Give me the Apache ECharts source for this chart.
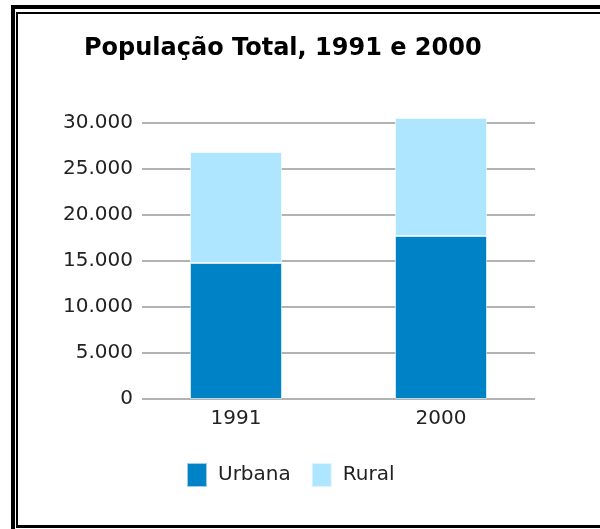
<!DOCTYPE html>
<html lang="pt">
<head>
<meta charset="UTF-8">
<title>População Total, 1991 e 2000</title>
<script src="https://cdn.jsdelivr.net/npm/echarts@6/dist/echarts.min.js"></script>
<style>
  html, body { margin: 0; padding: 0; background: #fff; }
  #wrap { position: relative; width: 600px; height: 529px; overflow: hidden; }
  .frameOuter { position: absolute; left: 11px; top: 5px; width: 700px; height: 700px;
    border-left: 4px solid #000; border-top: 4px solid #000; }
  .frameInner { position: absolute; left: 16px; top: 12px; width: 700px; height: 511px;
    border-left: 2px solid #000; border-top: 2px solid #000; border-bottom: 3px solid #000; }
  #main { position: absolute; left: 0; top: 0; width: 600px; height: 529px; }
</style>
</head>
<body>
<div id="wrap">
  <div class="frameOuter"></div>
  <div class="frameInner"></div>
  <div id="main"></div>
</div>
<script type="text/javascript">
var anos = ['1991', '2000'];
var urbana = [14780, 17720];
var rural = [12070, 12820];
var yTicks = [0, 30000, 5000]; // min, max, intervalo

var myChart = echarts.init(document.getElementById('main'));
var fonte = '"DejaVu Sans", "Liberation Sans", sans-serif';

function milhar(v) {
    return String(v).replace(/\B(?=(\d{3})+(?!\d))/g, '.');
}

option = {
    animation: false,
    title: {
        text: 'População Total, 1991 e 2000',
        left: 79,
        top: 32,
        textStyle: { fontFamily: fonte, fontSize: 24, fontWeight: 'bold', color: '#000' }
    },
    legend: {
        data: ['Urbana', 'Rural'],
        left: 181,
        top: 457,
        icon: 'rect',
        itemWidth: 20,
        itemHeight: 24,
        itemGap: 20,
        textStyle: { fontFamily: fonte, fontSize: 20, color: '#222', padding: [0, 0, 0, 6] }
    },
    grid: [
        // grade das linhas de referência
        { left: 142, right: 65, top: 123, bottom: 130 },
        // grade das barras (mesma escala vertical)
        { left: 133.5, width: 410, top: 77, bottom: 130 }
    ],
    xAxis: [
        { type: 'category', gridIndex: 0, data: anos, show: false },
        {
            type: 'category', gridIndex: 1, data: anos,
            axisLine: { show: false },
            axisTick: { show: false },
            axisLabel: { fontFamily: fonte, fontSize: 20, color: '#222', margin: 10 }
        }
    ],
    yAxis: [
        {
            type: 'value', gridIndex: 0,
            min: yTicks[0], max: yTicks[1], interval: yTicks[2],
            axisLine: { show: false },
            axisTick: { show: false },
            axisLabel: {
                fontFamily: fonte, fontSize: 20, color: '#222', margin: 9,
                formatter: function (v) { return milhar(v); }
            },
            splitLine: { lineStyle: { color: '#999', width: 1.5 } }
        },
        {
            type: 'value', gridIndex: 1,
            min: 0, max: 35000, interval: 5000,
            show: false,
            splitLine: { show: false }
        }
    ],
    series: [
        {
            name: 'Urbana',
            type: 'bar',
            stack: 'total',
            xAxisIndex: 1,
            yAxisIndex: 1,
            barWidth: 92,
            itemStyle: { color: '#0082C6', borderColor: 'rgba(255,255,255,0.6)', borderWidth: 1 },
            data: urbana
        },
        {
            name: 'Rural',
            type: 'bar',
            stack: 'total',
            xAxisIndex: 1,
            yAxisIndex: 1,
            barWidth: 92,
            itemStyle: { color: '#AEE6FF', borderColor: 'rgba(255,255,255,0.6)', borderWidth: 1 },
            data: rural
        }
    ]
};

if (option && typeof option === "object") {
    myChart.setOption(option);
}
</script>
</body>
</html>
